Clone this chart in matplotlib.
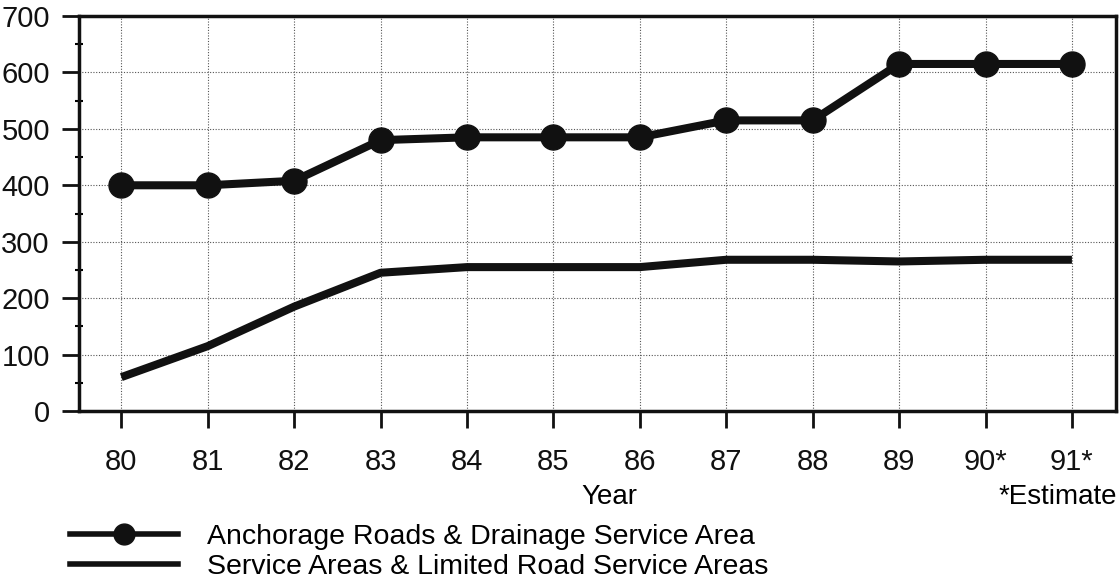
import matplotlib
matplotlib.use("Agg")
import matplotlib.pyplot as plt
from matplotlib.lines import Line2D

years = [80, 81, 82, 83, 84, 85, 86, 87, 88, 89, 90, 91]
year_labels = ["80", "81", "82", "83", "84", "85", "86", "87", "88", "89", "90*", "91*"]
anchorage = [400, 400, 408, 480, 485, 485, 485, 515, 515, 615, 615, 615]
service = [60, 115, 185, 245, 255, 255, 255, 268, 268, 265, 268, 268]

plt.rcParams['font.family'] = ['Liberation Sans', 'DejaVu Sans']

fig = plt.figure(figsize=(11.2, 5.86), dpi=100)
ax = fig.add_axes([79/1120, 1-411/586, (1116-79)/1120, (411-16)/586])

ax.plot(years, anchorage, color='#111111', lw=5.8, marker='o', ms=18, zorder=3,
        solid_capstyle='butt')
ax.plot(years, service, color='#111111', lw=5.8, zorder=3, solid_capstyle='butt')

ax.set_xlim(79.51, 91.51)
ax.set_ylim(0, 700)
ax.set_xticks(years)
ax.set_xticklabels(year_labels)
ax.set_yticks(range(0, 701, 100))
ax.set_yticks(range(50, 700, 100), minor=True)
ax.grid(True, which='major', color='#555555', ls=(0, (1, 1.5)), lw=0.8)
for s in ax.spines.values():
    s.set_linewidth(2.5)
    s.set_color('#111111')
ax.tick_params(axis='both', which='major', direction='out', length=12, width=2,
               labelsize=21, colors='#111111')
ax.tick_params(axis='x', which='major', pad=15)
ax.tick_params(axis='y', which='major', pad=9)
ax.tick_params(axis='y', which='minor', direction='inout', length=6, width=1.5)

fig.text(609/1120, 1-497/586, "Year", fontsize=20, ha='center', va='center')
fig.text(1117/1120, 1-497/586, "*Estimate", fontsize=20, ha='right', va='center')

h1 = Line2D([], [], color='#111111', lw=4, marker='o', ms=15)
h2 = Line2D([], [], color='#111111', lw=4)
fig.legend([h1, h2],
           ["Anchorage Roads & Drainage Service Area",
            "Service Areas & Limited Road Service Areas"],
           loc='upper left', bbox_to_anchor=(70/1120, 1-524/586),
           frameon=False, fontsize=20.5, handlelength=3.8, handletextpad=1.0,
           labelspacing=0.15, borderpad=0, borderaxespad=0)

fig.savefig("out.png", dpi=100)
